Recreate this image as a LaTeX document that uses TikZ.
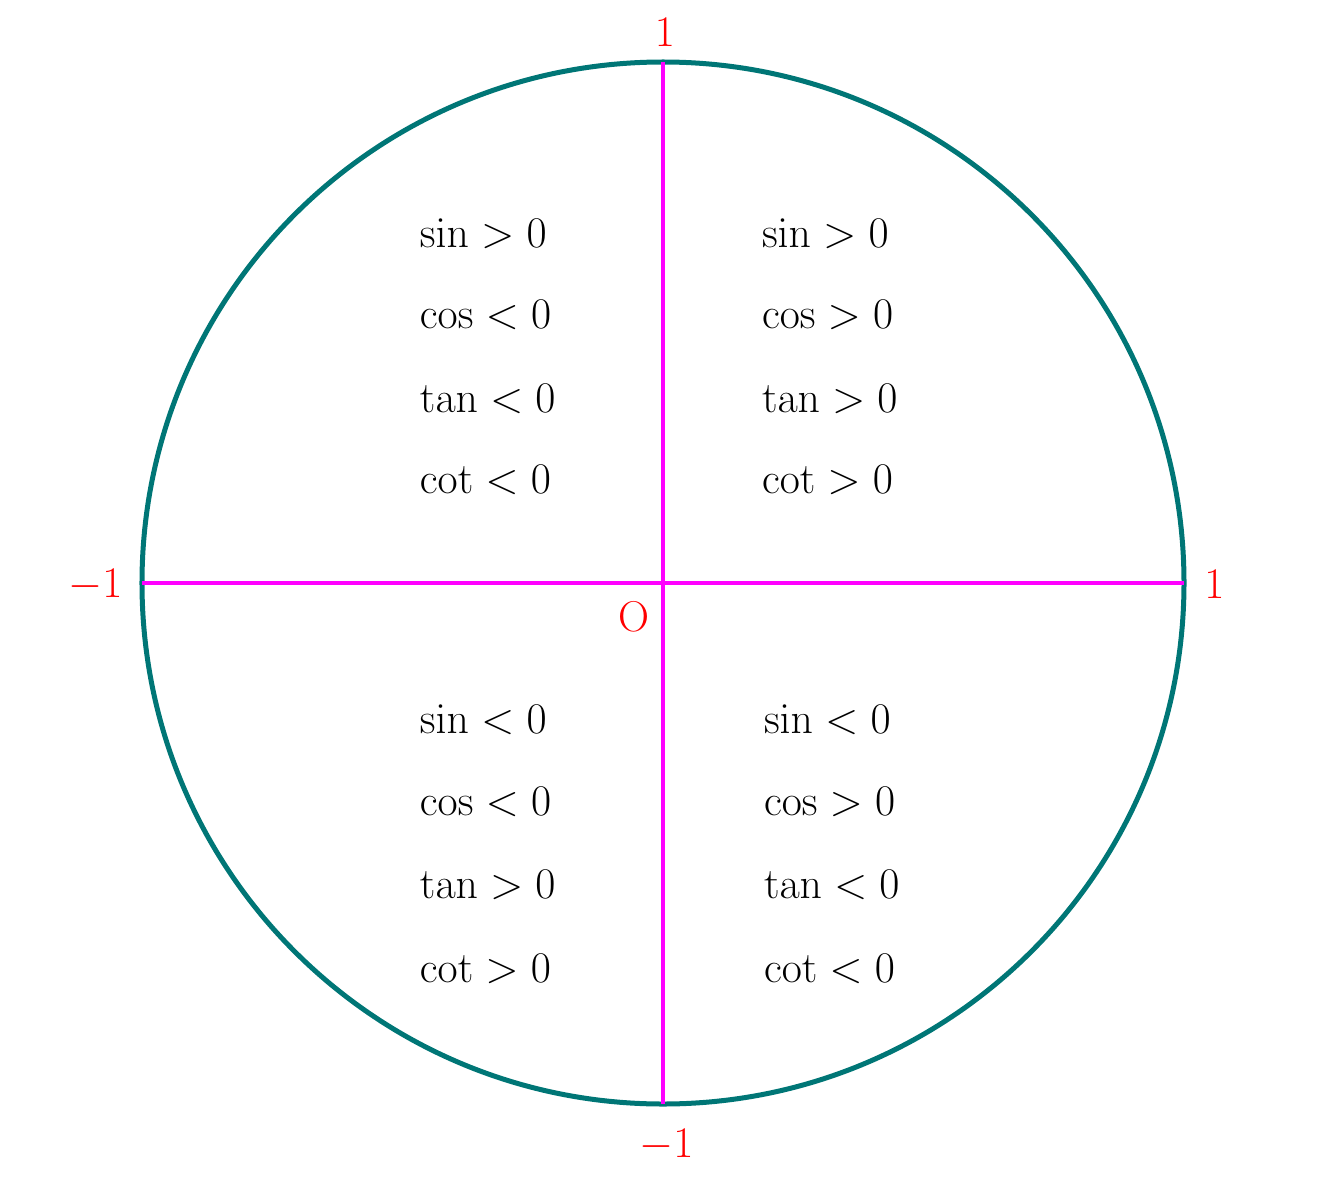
\documentclass[tikz,border=0pt]{standalone}
\definecolor{circ}{RGB}{0,118,118}
\definecolor{axis}{RGB}{255,0,255}
\begin{document}
\begin{tikzpicture}[
  qtext/.style={anchor=base west,inner sep=0pt,outer sep=0pt,font=\fontsize{24.5}{30}\selectfont},
  axlabel/.style={anchor=base,inner sep=0pt,text=red,font=\fontsize{24.5}{30}\selectfont},
  circline/.style={draw=circ,line width=0.1cm},
  axline/.style={draw=axis,line width=0.068cm}
]
\useasboundingbox (-13.26,-11.92) rectangle (13.42,11.66);
\coordinate (O) at (0,0);
\coordinate (L) at (-10.42,0);
\coordinate (R) at (10.42,0);
\coordinate (T) at (0,10.42);
\coordinate (B) at (0,-10.42);
\draw[circline] (O) circle (10.42);
\draw[axline] (L) -- (R);
\draw[axline] (B) -- (T);
% labels
\node[axlabel] (lt) at (0.04,10.72) {$1$};
\node[axlabel] (lb) at (0.07,-11.48) {$-1$};
\node[axlabel] (ll) at (-11.35,-0.28) {$-1$};
\node[axlabel] (lr) at (11.03,-0.30) {$1$};
\node[axlabel] (lo) at (-0.59,-0.96) {O};
% quadrant II
\node[qtext] (a1) at (-4.86,6.70) {$\sin > 0$};
\node[qtext] (a2) at (-4.86,5.10) {$\cos < 0$};
\node[qtext] (a3) at (-4.86,3.42) {$\tan < 0$};
\node[qtext] (a4) at (-4.86,1.80) {$\cot < 0$};
% quadrant I
\node[qtext] (b1) at (1.98,6.70) {$\sin > 0$};
\node[qtext] (b2) at (1.98,5.10) {$\cos > 0$};
\node[qtext] (b3) at (1.98,3.42) {$\tan > 0$};
\node[qtext] (b4) at (1.98,1.80) {$\cot > 0$};
% quadrant III
\node[qtext] (c1) at (-4.86,-3.00) {$\sin < 0$};
\node[qtext] (c2) at (-4.86,-4.64) {$\cos < 0$};
\node[qtext] (c3) at (-4.86,-6.30) {$\tan > 0$};
\node[qtext] (c4) at (-4.86,-7.98) {$\cot > 0$};
% quadrant IV
\node[qtext] (d1) at (2.02,-3.00) {$\sin < 0$};
\node[qtext] (d2) at (2.02,-4.64) {$\cos > 0$};
\node[qtext] (d3) at (2.02,-6.30) {$\tan < 0$};
\node[qtext] (d4) at (2.02,-7.98) {$\cot < 0$};
\end{tikzpicture}
\end{document}
